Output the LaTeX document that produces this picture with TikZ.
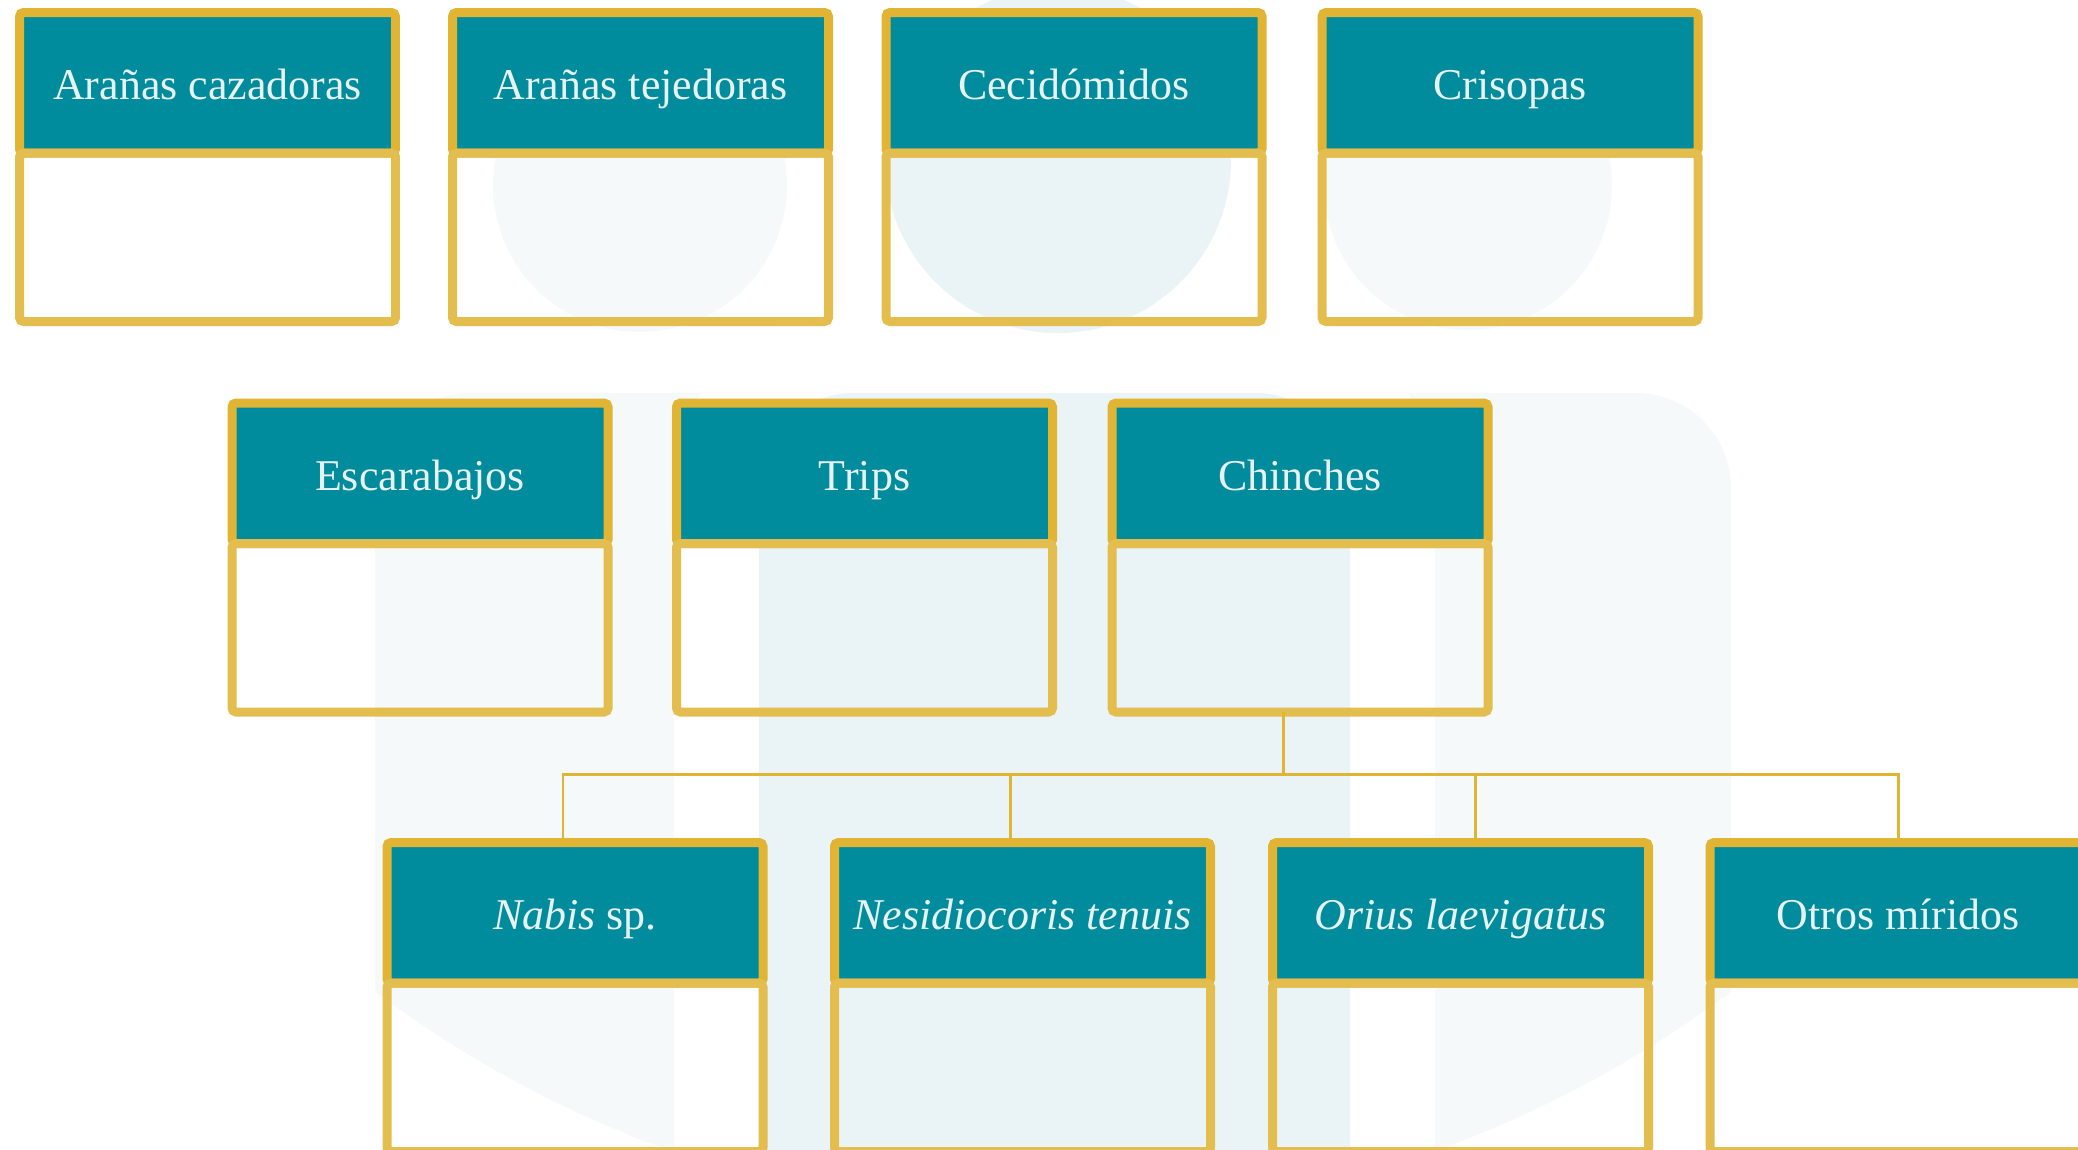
\documentclass[tikz,border=0pt]{standalone}
\usepackage{fontspec}
\setmainfont{Liberation Serif}
\usepackage{xcolor}
\usetikzlibrary{positioning}

\definecolor{boxteal}{HTML}{008C9C}
\definecolor{boxgold}{HTML}{E1B434}
\definecolor{boxgoldlight}{HTML}{E3BD4E}
\definecolor{headtext}{HTML}{E9F2F3}
\definecolor{palebg}{HTML}{F5F9FA}
\definecolor{midbg}{HTML}{EAF3F6}

\begin{document}
\begin{tikzpicture}[x=0.1mm, y=-0.1mm,
  grouphead/.style={draw=boxgold, fill=boxteal, line width=2.56pt,
    rounded corners=0.4mm, minimum width=37.6mm, minimum height=14.05mm,
    inner sep=0pt, outer sep=0pt, anchor=north, text=headtext,
    text height=12pt, text depth=2.2pt,
    font=\fontsize{12.5}{15}\selectfont},
  groupbox/.style={draw=boxgoldlight, line width=2.56pt, rounded corners=0.4mm,
    minimum width=37.6mm, minimum height=16.85mm, inner sep=0pt, outer sep=0pt},
  link/.style={draw=boxgold, line width=0.85pt}]
  \useasboundingbox (0,0) rectangle (2078,1150);
  \clip (0,0) rectangle (2078,1150);
  % background figures
  \begin{scope}
    \clip (1053,85) circle (1132);
    \fill[palebg, rounded corners=9.5mm] (375,393) rectangle (905,1400);
    \fill[palebg, rounded corners=9.5mm] (1201,393) rectangle (1731,1400);
  \end{scope}
  \fill[white, rounded corners=18mm] (674,308) rectangle (1435,1400);
  \fill[midbg, rounded corners=9.5mm] (759,393) rectangle (1350,1400);
  \fill[palebg] (640,185) circle (147);
  \fill[palebg] (1468,186) circle (144);
  \fill[midbg] (1058,160) circle (173);

  % first row
  \node[grouphead] (cazadoras) at (207.5,12.5) {Arañas cazadoras};
  \node[groupbox, below=0pt of cazadoras] (cazadoras-box) {};
  \node[grouphead] (tejedoras) at (640.5,12.5) {Arañas tejedoras};
  \node[groupbox, below=0pt of tejedoras] (tejedoras-box) {};
  \node[grouphead] (cecidomidos) at (1074,12.5) {Cecidómidos};
  \node[groupbox, below=0pt of cecidomidos] (cecidomidos-box) {};
  \node[grouphead] (crisopas) at (1510,12.5) {Crisopas};
  \node[groupbox, below=0pt of crisopas] (crisopas-box) {};

  % second row
  \node[grouphead] (escarabajos) at (420,403) {Escarabajos};
  \node[groupbox, below=0pt of escarabajos] (escarabajos-box) {};
  \node[grouphead] (trips) at (864.5,403) {Trips};
  \node[groupbox, below=0pt of trips] (trips-box) {};
  \node[grouphead] (chinches) at (1300,403) {Chinches};
  \node[groupbox, below=0pt of chinches] (chinches-box) {};

  % third row
  \node[grouphead] (nabis) at (575,842.5) {\textit{Nabis} sp.};
  \node[groupbox, below=0pt of nabis] (nabis-box) {};
  \node[grouphead] (nesidiocoris) at (1022.5,842.5) {\textit{Nesidiocoris tenuis}};
  \node[groupbox, below=0pt of nesidiocoris] (nesidiocoris-box) {};
  \node[grouphead] (orius) at (1460.5,842.5) {\textit{Orius laevigatus}};
  \node[groupbox, below=0pt of orius] (orius-box) {};
  \node[grouphead] (miridos) at (1898,842.5) {Otros míridos};
  \node[groupbox, below=0pt of miridos] (miridos-box) {};

  % connectors
  \draw[link] ([xshift=-1.7mm]chinches-box.south) -- ++(0,62) coordinate (bus);
  \draw[link] ([xshift=-1.2mm]nabis.north) |- (bus) -| (miridos.north);
  \draw[link] ([xshift=-1.2mm]nesidiocoris.north)
    -- ([xshift=-1.2mm]nesidiocoris.north |- bus);
  \draw[link] ([xshift=1.5mm]orius.north) -- ([xshift=1.5mm]orius.north |- bus);
\end{tikzpicture}
\end{document}
